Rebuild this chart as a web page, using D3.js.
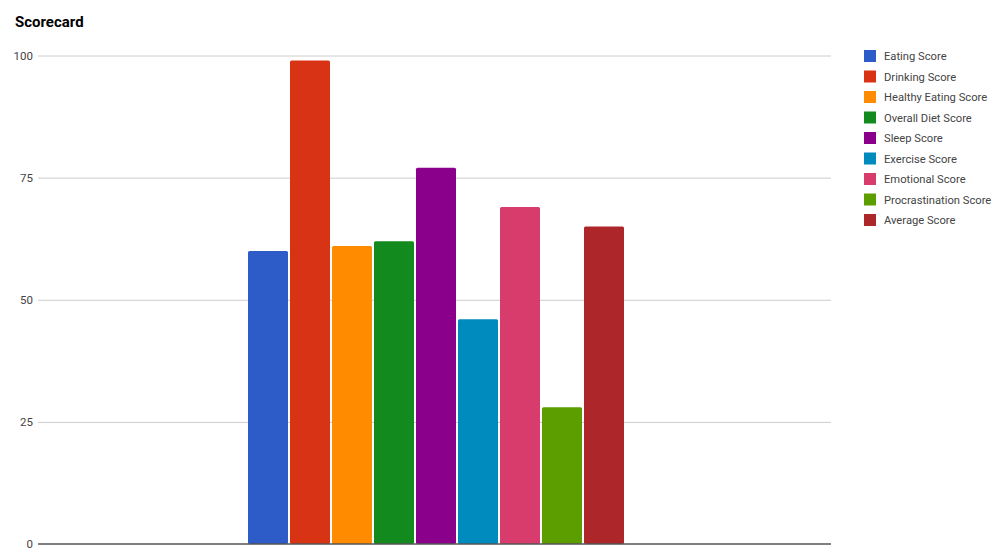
<!DOCTYPE html>
<html>
<head>
<meta charset="utf-8">
<script src="https://cdn.jsdelivr.net/npm/d3@7"></script>
<style>
  html, body { margin: 0; padding: 0; background: #fff; }
  svg { display: block; font-family: Roboto, Arial, sans-serif; }
</style>
</head>
<body>
<svg id="chart" width="1005" height="556"></svg>
<script>
const seriesNames = ["Eating Score", "Drinking Score", "Healthy Eating Score", "Overall Diet Score",
  "Sleep Score", "Exercise Score", "Emotional Score", "Procrastination Score", "Average Score"];
const seriesValues = [60, 99, 61, 62, 77, 46, 69, 28, 65];
const seriesColors = ["#2d5cc8", "#d93316", "#ff8c00", "#128a1e", "#8b008b", "#008bbe", "#d83c6c", "#5c9e00", "#ad2629"];
const categories = [""];
const yTicks = [0, 25, 50, 75, 100];

const svg = d3.select("#chart");
const plot = { left: 38, right: 831, top: 55.5, bottom: 544 };

const y = d3.scaleLinear().domain([0, 100]).range([plot.bottom, plot.top]);
const x0 = d3.scaleBand().domain(categories).range([plot.left + 3, plot.right])
  .paddingInner(0).paddingOuter(0.5505);
const x1 = d3.scaleBand().domain(seriesNames).range([0, x0.bandwidth()]).paddingInner(2 / 42).paddingOuter(0);

// title
svg.append("text").attr("x", 15).attr("y", 27)
  .attr("font-size", 15).attr("font-weight", "bold").attr("fill", "#000")
  .text("Scorecard");

// gridlines + y labels
const yAxis = d3.axisLeft(y).tickValues(yTicks).tickSize(-(plot.right - plot.left)).tickPadding(5);
const yg = svg.append("g").attr("transform", `translate(${plot.left},0)`).call(yAxis);
yg.select(".domain").remove();
yg.selectAll(".tick line").attr("stroke", "#cccccc").attr("stroke-width", 1);
yg.selectAll(".tick text").attr("fill", "#444").attr("font-size", 11.5)
  .attr("font-family", "Roboto, Arial, sans-serif");
yg.selectAll(".tick").filter(d => d === 0).select("line").remove();

// bars
const g = svg.append("g");
categories.forEach(cat => {
  g.selectAll("rect.bar")
    .data(seriesNames.map((n, i) => ({ name: n, value: seriesValues[i], color: seriesColors[i] })))
    .enter().append("rect")
    .attr("class", "bar")
    .attr("x", d => x0(cat) + x1(d.name))
    .attr("y", d => y(d.value))
    .attr("width", x1.bandwidth())
    .attr("height", d => y(0) - y(d.value))
    .attr("rx", 1.5)
    .attr("fill", d => d.color);
});

// baseline axis
const xAxis = d3.axisBottom(x0).tickSize(0).tickFormat("");
const xg = svg.append("g").attr("transform", `translate(0,${y(0)})`).call(xAxis);
xg.select(".domain").attr("d", `M${plot.left},0H${plot.right}`)
  .attr("stroke", "#555").attr("stroke-width", 1.5);

// legend
const legend = svg.append("g").attr("transform", "translate(864,56)");
const items = legend.selectAll("g").data(seriesNames).enter().append("g")
  .attr("transform", (d, i) => `translate(0,${i * 20.5})`);
items.append("rect").attr("x", 0).attr("y", -6).attr("width", 12).attr("height", 12)
  .attr("fill", (d, i) => seriesColors[i]);
items.append("text").attr("x", 20).attr("y", 4).attr("font-size", 11.2).attr("fill", "#444")
  .text(d => d);
</script>
</body>
</html>
